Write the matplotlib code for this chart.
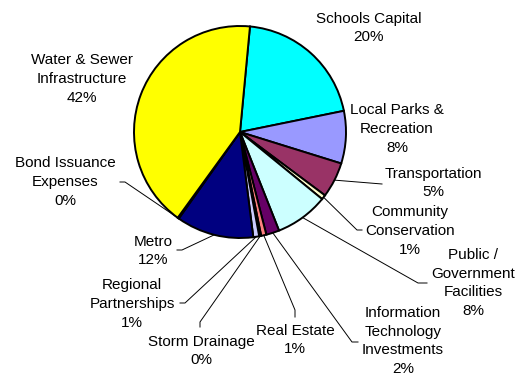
import matplotlib.pyplot as plt
import numpy as np

plt.rcParams['font.family'] = ['Liberation Sans', 'DejaVu Sans']

# slices, clockwise from the top
names = ["Schools Capital", "Local Parks &\nRecreation", "Transportation",
         "Community\nConservation", "Public /\nGovernment\nFacilities",
         "Information\nTechnology\nInvestments", "Real Estate", "Storm Drainage",
         "Regional\nPartnerships", "Metro", "Bond Issuance\nExpenses",
         "Water & Sewer\nInfrastructure"]
shares = [20.3, 8.0, 5.4, 0.7, 8.1, 2.0, 0.8, 0.3, 0.9, 11.8, 0.2, 41.5]
pct_labels = ["20%", "8%", "5%", "1%", "8%", "2%", "1%", "0%", "1%", "12%", "0%", "42%"]
colors = ["#00FFFF", "#9999FF", "#993366", "#FFFFCC", "#CCFFFF", "#660066",
          "#FF8080", "#0066CC", "#CCCCFF", "#000080", "#FF00FF", "#FFFF00"]

# layout (pixel coords, y down): label centre and leader line bend points
label_pos = [(369, 28), (397, 129), (433, 183), (410, 231), (473, 283),
             (403, 341), (295, 340), (201, 351), (132, 304), (153, 251),
             (65, 182), (82, 79)]
leaders = [None, None, [(382, 184)], [(357, 230), (362, 230)],
           [(418, 283), (427, 283)], [(352, 342), (358, 342)],
           [(295, 310), (295, 317)], [(200, 322), (200, 327)],
           [(185, 303), (180, 303)], [(182, 250), (177, 250)],
           [(125, 182), (120, 182)], None]

cx, cy, r = 240, 132, 106

fig = plt.figure(figsize=(5.23, 3.81), dpi=100)
ax = fig.add_axes([0, 0, 1, 1])
wedges, _ = ax.pie(shares, colors=colors, startangle=-84.6, counterclock=True,
                   center=(cx, cy), radius=r,
                   wedgeprops=dict(edgecolor='black', linewidth=1.4))
ax.set_xlim(0, 523)
ax.set_ylim(381, 0)
ax.axis('off')

for w, name, pct, pos, lead in zip(wedges, names, pct_labels, label_pos, leaders):
    ax.text(pos[0], pos[1], name + "\n" + pct, ha='center', va='center',
            fontsize=11, linespacing=1.45)
    if lead:
        mid = np.deg2rad((w.theta1 + w.theta2) / 2)
        xs = [cx + r * np.cos(mid)] + [p[0] for p in lead]
        ys = [cy + r * np.sin(mid)] + [p[1] for p in lead]
        ax.plot(xs, ys, color='black', linewidth=0.7)

fig.savefig("out.png", dpi=100)
